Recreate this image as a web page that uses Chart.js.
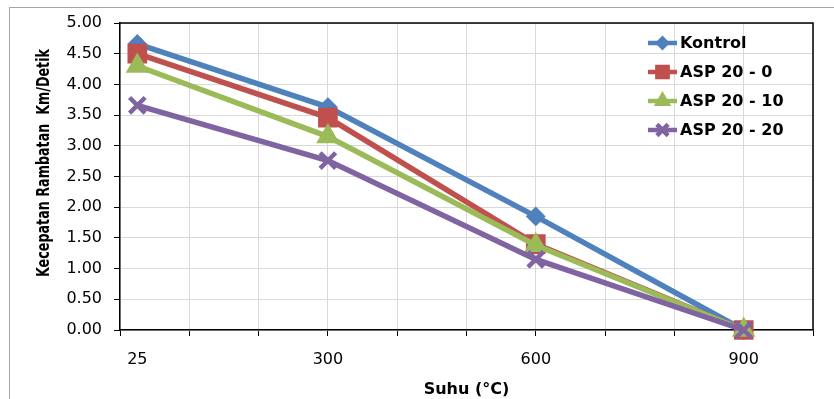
<!DOCTYPE html>
<html><head><meta charset="utf-8">
<script src="https://cdn.jsdelivr.net/npm/chart.js@4"></script>
<style>
html,body{margin:0;padding:0;background:#fff;}
#wrap{position:relative;width:834px;height:399px;overflow:hidden;}
#frame{position:absolute;left:9px;top:7px;width:900px;height:500px;border:1px solid #a6a6a6;}
canvas{position:absolute;left:0;top:0;}
</style></head><body>
<div id="wrap"><div id="frame"></div><canvas id="c" width="834" height="399"></canvas></div>
<script>
// ---- data ----
const temperatures = [25, 300, 600, 900];
const seriesNames = ['Kontrol', 'ASP 20 - 0', 'ASP 20 - 10', 'ASP 20 - 20'];
const kontrol  = [4.66, 3.63, 1.85, 0.00];
const asp20_0  = [4.50, 3.46, 1.40, 0.00];
const asp20_10 = [4.30, 3.15, 1.38, 0.00];
const asp20_20 = [3.66, 2.76, 1.15, 0.00];
const xTickLabels = [25, 300, 600, 900];
const xTitle = 'Suhu (°C)';
const yTitle = 'Kecepatan Rambatan  Km/Detik';

// ---- styling ----
const colors = ['#4F81BD', '#C0504D', '#9BBB59', '#8064A2'];
const styles = [
  {pointStyle: 'rectRot', radius: 8.5, bw: 2, lr: 6},
  {pointStyle: 'rect', radius: 12.5, bw: 2, lr: 9},
  {pointStyle: 'triangle', radius: 11.5, bw: 2, lr: 8},
  {pointStyle: 'crossRot', radius: 11, bw: 4.5, lr: 8}
];
const allSeries = [kontrol, asp20_0, asp20_10, asp20_20];

const datasets = allSeries.map((vals, i) => ({
  label: seriesNames[i],
  data: temperatures.map((t, j) => ({x: t, y: vals[j]})),
  borderColor: colors[i],
  backgroundColor: colors[i],
  borderWidth: 5.5,
  pointStyle: styles[i].pointStyle,
  pointRadius: styles[i].radius,
  pointBorderWidth: styles[i].bw,
  pointBackgroundColor: colors[i],
  pointBorderColor: colors[i],
  tension: 0,
  clip: false,
  order: allSeries.length - i
}));

const FONT = '"DejaVu Sans", Verdana, sans-serif';

const extras = {
  id: 'extras',
  beforeDatasetsDraw(chart) {
    const {ctx, chartArea: a} = chart;
    ctx.save();
    ctx.strokeStyle = '#000';
    ctx.lineWidth = 1.5;
    ctx.beginPath();
    ctx.moveTo(a.left, a.top); ctx.lineTo(a.right, a.top); ctx.lineTo(a.right, a.bottom);
    ctx.stroke();
    ctx.restore();
  },
  afterDraw(chart) {
    const {ctx} = chart;
    // y title (condensed along its reading direction)
    ctx.save();
    ctx.translate(45, 163);
    ctx.rotate(-Math.PI / 2);
    ctx.font = 'bold 17px "Liberation Sans Narrow", "DejaVu Sans Condensed", sans-serif';
    const w = ctx.measureText(yTitle).width;
    const targetW = 228;
    if (w > targetW) ctx.scale(targetW / w, 1);
    ctx.fillStyle = '#000';
    ctx.textAlign = 'center';
    ctx.textBaseline = 'middle';
    ctx.fillText(yTitle, 0, 0);
    ctx.restore();
    // legend
    const x0 = 648, x1 = 677, tx = 680, ys = [43, 72, 101, 130];
    chart.data.datasets.forEach((ds, i) => {
      const y = ys[i];
      ctx.save();
      ctx.strokeStyle = ds.borderColor;
      ctx.lineWidth = 4.5;
      ctx.beginPath(); ctx.moveTo(x0, y); ctx.lineTo(x1, y); ctx.stroke();
      ctx.fillStyle = ds.pointBackgroundColor;
      ctx.strokeStyle = ds.pointBorderColor;
      ctx.lineWidth = ds.pointBorderWidth;
      Chart.helpers.drawPoint(ctx, {pointStyle: ds.pointStyle, radius: styles[i].lr, rotation: 0, borderWidth: ds.pointBorderWidth}, (x0 + x1) / 2, y);
      ctx.fillStyle = '#000';
      ctx.font = 'bold 16px ' + FONT;
      ctx.textAlign = 'left';
      ctx.textBaseline = 'middle';
      ctx.fillText(ds.label, tx, y + 1);
      ctx.restore();
    });
  }
};

new Chart(document.getElementById('c'), {
  type: 'line',
  data: {datasets},
  options: {
    responsive: false,
    animation: false,
    devicePixelRatio: 1,
    layout: {padding: {left: 0, top: 23, right: 21, bottom: 0}},
    plugins: {legend: {display: false}, tooltip: {enabled: false}},
    scales: {
      x: {
        type: 'linear', min: 0, max: 1000,
        afterBuildTicks(scale) {
          const vals = [];
          for (let v = 0; v <= 1000; v += 100) vals.push(v);
          xTickLabels.forEach(v => { if (!vals.includes(v)) vals.push(v); });
          vals.sort((a, b) => a - b);
          scale.ticks = vals.map(v => ({value: v}));
        },
        afterFit(scale) { scale.height = 69; },
        ticks: {
          autoSkip: false, maxRotation: 0, padding: 14,
          color: '#000', font: {family: FONT, size: 16},
          callback: v => xTickLabels.includes(v) ? String(v) : ''
        },
        grid: {
          color: c => (c.tick && c.tick.value % 100 !== 0) ? 'rgba(0,0,0,0)' : '#d9d9d9',
          tickColor: c => (c.tick && c.tick.value % 100 !== 0) ? 'rgba(0,0,0,0)' : '#000',
          tickLength: 6, lineWidth: 1
        },
        border: {color: '#000', width: 1.5},
        title: {display: true, text: xTitle, color: '#000', font: {family: FONT, size: 16, weight: 'bold'}, padding: {top: 0, bottom: 0}}
      },
      y: {
        min: 0, max: 5,
        afterFit(scale) { scale.width = 120; },
        ticks: {stepSize: 0.5, padding: 12, color: '#000', font: {family: FONT, size: 16}, callback: v => Number(v).toFixed(2)},
        grid: {color: '#d9d9d9', tickColor: '#000', tickLength: 6, lineWidth: 1},
        border: {color: '#000', width: 1.5}
      }
    }
  },
  plugins: [extras]
});
</script>
</body></html>
